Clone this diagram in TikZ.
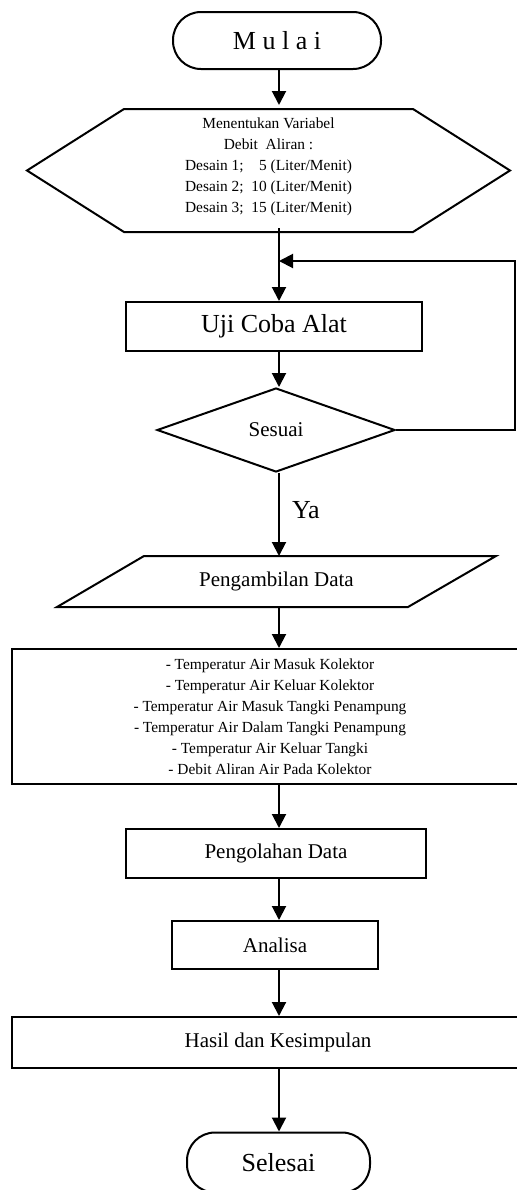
\documentclass[tikz,border=0pt]{standalone}
\usepackage{fontspec}
\setmainfont{Liberation Serif}
\usetikzlibrary{arrows.meta,shapes.geometric}

\begin{document}
\begin{tikzpicture}[x=0.5pt, y=-0.5pt, line width=1pt,
	every node/.style={align=center, inner sep=0pt},
	kecil/.style={font=\fontsize{7.7}{10.5}\selectfont},
	sedang/.style={font=\fontsize{10.5}{12}\selectfont},
	besar/.style={font=\fontsize{13}{15}\selectfont},
	terminal/.style={draw, rounded corners=14pt, besar},
	proses/.style={draw, rectangle, sedang},
	keputusan/.style={draw, diamond, sedang, minimum width=119pt, minimum height=42pt},
	panah/.style={-{Triangle[length=7pt,width=7pt]}}]
		\clip (0,0) rectangle (517,1190);
		% garis tengah
		\coordinate (axis) at (279,0);
		\coordinate (balik) at (515,261);
		% mulai
		\node[terminal, minimum width=104pt, minimum height=28.5pt] (mulai) at (277,40.5) {M u l a i};
		% variabel (hexagon)
		\node[kecil, minimum width=240.5pt, minimum height=60.5pt, yshift=2pt] (variabel) at (268.5,170.5)
			{Menentukan Variabel\\Debit~ Aliran :\\Desain 1;~~\hphantom{1}5 (Liter/Menit)\\Desain 2;~~10 (Liter/Menit)\\Desain 3;~~15 (Liter/Menit)};
		\draw ([xshift=48.5pt,yshift=-2pt]variabel.north west) -- ([xshift=-48.5pt,yshift=-2pt]variabel.north east)
			-- ([yshift=-2pt]variabel.east) -- ([xshift=-48.5pt,yshift=-2pt]variabel.south east)
			-- ([xshift=48.5pt,yshift=-2pt]variabel.south west) -- ([yshift=-2pt]variabel.west) -- cycle;
		% uji coba
		\node[proses, besar, minimum width=148pt, minimum height=24.5pt] (uji) at (274,326.5) {Uji Coba Alat};
		% sesuai
		\node[keputusan] (sesuai) at (276,430) {Sesuai};
		% pengambilan data (jajar genjang)
		\node[sedang, minimum width=218.5pt, minimum height=24.5pt] (ambil) at (276.5,581.5) {Pengambilan Data};
		\draw ([xshift=43.5pt]ambil.north west) -- (ambil.north east)
			-- ([xshift=-44pt]ambil.south east) -- (ambil.south west) -- cycle;
		% data
		\node[proses, kecil, minimum width=258pt, minimum height=67.5pt] (data) at (270,716.5)
			{- Temperatur Air Masuk Kolektor\\- Temperatur Air Keluar Kolektor\\- Temperatur Air Masuk Tangki Penampung\\- Temperatur Air Dalam Tangki Penampung\\- Temperatur Air Keluar Tangki\\- Debit Aliran Air Pada Kolektor};
		% pengolahan
		\node[proses, minimum width=150pt, minimum height=24.5pt] (olah) at (276,853.5) {Pengolahan Data};
		% analisa
		\node[proses, minimum width=103pt, minimum height=24pt] (analisa) at (275,945) {Analisa};
		% hasil
		\node[proses, minimum width=266pt, minimum height=25.5pt] (hasil) at (278,1042.5) {Hasil dan Kesimpulan};
		% selesai
		\node[terminal, minimum width=91.5pt, minimum height=30pt] (selesai) at (278.5,1162.5) {Selesai};
		% panah
		\draw[panah] (mulai.south -| axis) -- (variabel.north -| axis);
		\draw[panah] (variabel.south -| axis) -- (uji.north -| axis);
		\draw[panah] (uji.south -| axis) -- (sesuai.north -| axis);
		\draw[panah] (sesuai.east) -- (sesuai.east -| balik) -- (balik) -- (balik -| axis);
		\draw[panah] (sesuai.south -| axis) -- (ambil.north -| axis);
		\node[besar, anchor=base west] (ya) at (291,518) {Ya};
		\draw[panah] (ambil.south -| axis) -- (data.north -| axis);
		\draw[panah] (data.south -| axis) -- (olah.north -| axis);
		\draw[panah] (olah.south -| axis) -- (analisa.north -| axis);
		\draw[panah] (analisa.south -| axis) -- (hasil.north -| axis);
		\draw[panah] (hasil.south -| axis) -- (selesai.north -| axis);
	\end{tikzpicture}
\end{document}
